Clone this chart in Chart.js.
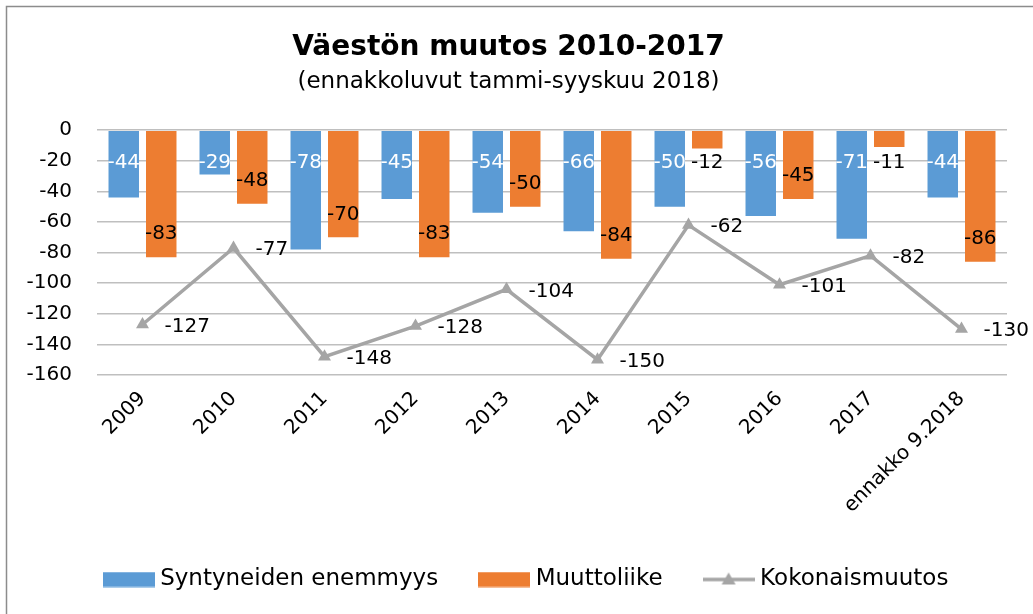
<!DOCTYPE html>
<html>
<head>
<meta charset="utf-8">
<script src="https://cdn.jsdelivr.net/npm/chart.js@4"></script>
<style>
  html, body { margin: 0; padding: 0; background: #fff; }
  #wrap { width: 1033px; height: 614px; position: relative; }
</style>
</head>
<body>
<div id="wrap"><canvas id="popChart" width="1033" height="614"></canvas></div>
<script>
// Chart data
const categories = ['2009', '2010', '2011', '2012', '2013', '2014', '2015', '2016', '2017', 'ennakko 9.2018'];
const naturalGrowth = [-44, -29, -78, -45, -54, -66, -50, -56, -71, -44];
const migration = [-83, -48, -70, -83, -50, -84, -12, -45, -11, -86];
const totalChange = [-127, -77, -148, -128, -104, -150, -62, -101, -82, -130];
const yTicks = [0, -20, -40, -60, -80, -100, -120, -140, -160];

const BLUE = '#5B9BD5';
const ORANGE = '#ED7D31';
const GRAY = '#A5A5A5';
const FONT = 'DejaVu Sans';

// Legend swatches (52px wide, drawn over a 40px legend box)
function makeSwatch(kind, color) {
    const c = document.createElement('canvas');
    c.width = 52; c.height = 16;
    const ctx = c.getContext('2d');
    if (kind === 'rect') {
        ctx.fillStyle = color;
        ctx.fillRect(0, 0.5, 52, 15);
    } else {
        ctx.strokeStyle = color;
        ctx.lineWidth = 3.5;
        ctx.beginPath();
        ctx.moveTo(0, 8); ctx.lineTo(52, 8);
        ctx.stroke();
        ctx.fillStyle = color;
        ctx.beginPath();
        ctx.moveTo(26, 1); ctx.lineTo(33, 13); ctx.lineTo(19, 13);
        ctx.closePath();
        ctx.fill();
    }
    return c;
}
const swatches = [makeSwatch('rect', BLUE), makeSwatch('rect', ORANGE), makeSwatch('line', GRAY)];

// Data labels drawn next to each mark
const valueLabels = {
    id: 'valueLabels',
    afterDatasetsDraw(chart) {
        const ctx = chart.ctx;
        const base = chart.scales.y.getPixelForValue(0);
        ctx.save();
        ctx.font = '20px "' + FONT + '"';
        ctx.textBaseline = 'middle';
        chart.data.datasets.forEach((ds, di) => {
            const meta = chart.getDatasetMeta(di);
            meta.data.forEach((el, i) => {
                const v = ds.data[i];
                if (di === 0) {
                    ctx.fillStyle = '#fff';
                    ctx.textAlign = 'center';
                    ctx.fillText(String(v), el.x, base + 33);
                } else if (di === 1) {
                    ctx.fillStyle = '#000';
                    ctx.textAlign = 'center';
                    ctx.fillText(String(v), el.x, Math.max(el.y - 23, base + 33));
                } else {
                    ctx.fillStyle = '#000';
                    ctx.textAlign = 'left';
                    ctx.fillText(String(v), el.x + 22, el.y + 2);
                }
            });
        });
        ctx.restore();
    }
};

// Nudge the legend row to where the original sits
const legendShift = {
    id: 'legendShift',
    afterLayout(chart) {
        const lg = chart.legend;
        if (!lg) return;
        lg.left += 20; lg.right += 20;
        lg.top -= 9; lg.bottom -= 9;
    }
};

// Outer frame of the chart object
const frame = {
    id: 'frame',
    beforeDraw(chart) {
        const ctx = chart.ctx;
        ctx.save();
        ctx.fillStyle = '#fff';
        ctx.fillRect(0, 0, chart.width, chart.height);
        ctx.strokeStyle = '#8C8C8C';
        ctx.lineWidth = 1.5;
        ctx.beginPath();
        ctx.moveTo(6.5, chart.height);
        ctx.lineTo(6.5, 6.5);
        ctx.lineTo(chart.width, 6.5);
        ctx.stroke();
        ctx.restore();
    }
};

document.addEventListener('DOMContentLoaded', function () {
    const ctx = document.getElementById('popChart');
    new Chart(ctx, {
        type: 'bar',
        data: {
            labels: categories,
            datasets: [{
                label: 'Syntyneiden enemmyys',
                data: naturalGrowth,
                backgroundColor: BLUE,
                categoryPercentage: 0.824,
                barPercentage: 0.813,
                order: 2
            }, {
                label: 'Muuttoliike',
                data: migration,
                backgroundColor: ORANGE,
                categoryPercentage: 0.824,
                barPercentage: 0.813,
                order: 2
            }, {
                type: 'line',
                label: 'Kokonaismuutos',
                data: totalChange,
                borderColor: GRAY,
                backgroundColor: GRAY,
                borderWidth: 3.5,
                pointStyle: 'triangle',
                pointRadius: 7.5,
                pointBorderWidth: 0,
                tension: 0,
                order: 1
            }]
        },
        options: {
            responsive: false,
            animation: false,
            devicePixelRatio: 1,
            layout: { padding: { left: 10, right: 26, top: 0, bottom: 4 } },
            plugins: {
                title: {
                    display: true,
                    text: 'Väestön muutos 2010-2017',
                    color: '#000',
                    font: { family: FONT, size: 28, weight: 'bold' },
                    padding: { top: 31, bottom: 0 }
                },
                subtitle: {
                    display: true,
                    text: '(ennakkoluvut tammi-syyskuu 2018)',
                    color: '#000',
                    font: { family: FONT, size: 23 },
                    padding: { top: 4, bottom: 34 }
                },
                legend: {
                    position: 'bottom',
                    labels: {
                        usePointStyle: true,
                        pointStyleWidth: 40,
                        color: '#000',
                        font: { family: FONT, size: 23 },
                        padding: 46,
                        generateLabels(chart) {
                            return chart.data.datasets.map((ds, i) => ({
                                text: ds.label,
                                pointStyle: swatches[i],
                                fillStyle: ds.backgroundColor,
                                strokeStyle: ds.backgroundColor,
                                lineWidth: 0,
                                hidden: false,
                                datasetIndex: i
                            }));
                        }
                    }
                },
                tooltip: { enabled: false }
            },
            scales: {
                x: {
                    grid: { display: false },
                    border: { display: false },
                    ticks: {
                        color: '#000',
                        font: { family: FONT, size: 20 },
                        minRotation: 45,
                        maxRotation: 45,
                        padding: 4
                    },
                    afterFit(scale) { scale.height = 156; }
                },
                y: {
                    min: -160,
                    max: 0,
                    afterBuildTicks(scale) {
                        scale.ticks = yTicks.map(v => ({ value: v }));
                    },
                    grid: { color: '#BFBFBF', lineWidth: 1.5, drawTicks: false },
                    border: { display: false },
                    ticks: {
                        color: '#000',
                        font: { family: FONT, size: 20 },
                        padding: 25
                    },
                    afterFit(scale) { scale.width = 87; }
                }
            }
        },
        plugins: [frame, legendShift, valueLabels]
    });
});
</script>
</body>
</html>
